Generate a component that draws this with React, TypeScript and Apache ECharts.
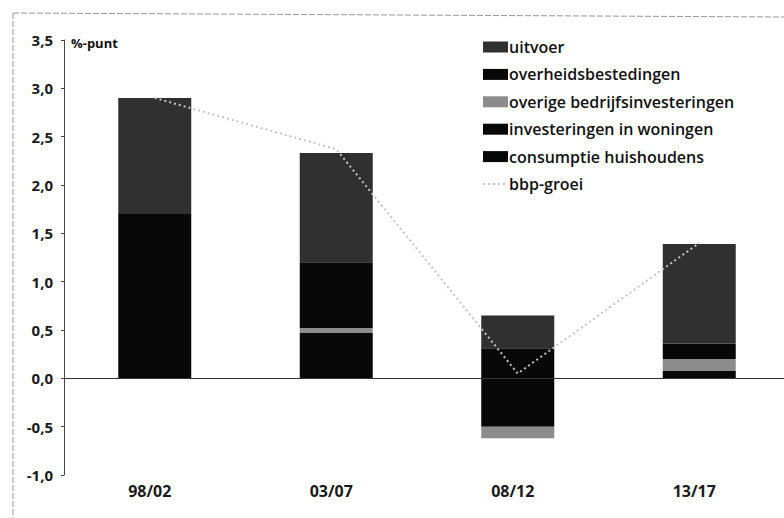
import React, { useEffect, useRef } from "react";
import * as echarts from "echarts";

const categories = ["98/02", "03/07", "08/12", "13/17"];
const uitvoer = [1.2, 1.13, 0.34, 1.03];
const overheidsbestedingen = [0, 0.68, 0.31, 0.16];
const overigeBedrijfsinvesteringen = [0, 0.05, -0.12, 0.125];
const investeringenInWoningen = [0, 0, 0, 0];
const consumptieHuishoudens = [1.7, 0.47, -0.5, 0.075];
const bbpGroei = [2.9, 2.37, 0.05, 1.4];

const barNames = [
  "uitvoer",
  "overheidsbestedingen",
  "overige bedrijfsinvesteringen",
  "investeringen in woningen",
  "consumptie huishoudens",
];
const lineName = "bbp-groei";

const FONT = "'Open Sans', 'Noto Sans', sans-serif";

export default function App() {
  const ref = useRef<HTMLDivElement>(null);
  useEffect(() => {
    if (!ref.current) return;
    const chart = echarts.init(ref.current, null, { renderer: "svg" });
    const barBase = { type: "bar", stack: "total", barWidth: 73 };
    chart.setOption({
      animation: false,
      backgroundColor: "#ffffff",
      textStyle: { fontFamily: FONT },
      grid: { left: 64, right: 10, top: 40, bottom: 43, containLabel: false },
      legend: {
        data: [
          ...barNames.map((n) => ({ name: n, icon: "rect" })),
          { name: lineName, itemStyle: { opacity: 0 }, lineStyle: { color: "#c4c4c4", width: 2, type: [2, 3] } },
        ],
        orient: "vertical",
        left: 477,
        top: 34,
        itemWidth: 25,
        itemHeight: 11,
        itemGap: 11.4,
        textStyle: { fontFamily: FONT, fontSize: 16, fontWeight: 600, color: "#111", padding: [0, 0, 0, -4] },
      },
      xAxis: {
        type: "category",
        data: categories,
        position: "bottom",
        axisLine: { show: false, onZero: false },
        axisTick: { show: false },
        axisLabel: {
          fontFamily: FONT,
          fontSize: 16,
          fontWeight: 700,
          color: "#1a1a1a",
          margin: 8,
          padding: [0, 10, 0, 0],
        },
      },
      yAxis: {
        type: "value",
        min: -1,
        max: 3.5,
        interval: 0.5,
        axisLine: { show: true, lineStyle: { color: "#444", width: 1 } },
        axisTick: { show: true, length: 3, lineStyle: { color: "#444" } },
        splitLine: { show: false },
        axisLabel: {
          fontFamily: FONT,
          fontSize: 15,
          fontWeight: 700,
          color: "#1a1a1a",
          margin: 11,
          formatter: (v: number) => v.toFixed(1).replace(".", ","),
        },
      },
      graphic: [
        { type: "line", shape: { x1: 13, y1: 13, x2: 784, y2: 17 }, style: { stroke: "#999", lineWidth: 1, lineDash: [6, 2] } },
        { type: "line", shape: { x1: 13, y1: 13, x2: 13, y2: 518 }, style: { stroke: "#999", lineWidth: 1, lineDash: [6, 2] } },
        {
          type: "text",
          x: 71,
          y: 43,
          style: { text: "%-punt", fontFamily: FONT, fontSize: 13, fontWeight: 700, fill: "#111", textVerticalAlign: "middle" },
        },
      ],
      series: [
        {
          ...barBase,
          name: "consumptie huishoudens",
          data: consumptieHuishoudens,
          itemStyle: { color: "#080808" },
          markLine: {
            silent: true,
            symbol: ["none", "none"],
            label: { show: false },
            lineStyle: { color: "#333", type: "solid", width: 1 },
            data: [{ yAxis: 0 }],
          },
        },
        { ...barBase, name: "investeringen in woningen", data: investeringenInWoningen, itemStyle: { color: "#080808" } },
        { ...barBase, name: "overige bedrijfsinvesteringen", data: overigeBedrijfsinvesteringen, itemStyle: { color: "#8c8c8c" } },
        { ...barBase, name: "overheidsbestedingen", data: overheidsbestedingen, itemStyle: { color: "#080808" } },
        { ...barBase, name: "uitvoer", data: uitvoer, itemStyle: { color: "#303030" } },
        {
          type: "line",
          name: lineName,
          data: bbpGroei,
          symbol: "none",
          z: 5,
          lineStyle: { color: "#c4c4c4", width: 2, type: [2, 3] },
          itemStyle: { color: "#c4c4c4" },
        },
      ],
    });
    return () => chart.dispose();
  }, []);
  return <div ref={ref} style={{ position: "fixed", left: 0, top: 0, width: 800, height: 518, background: "#fff" }} />;
}
